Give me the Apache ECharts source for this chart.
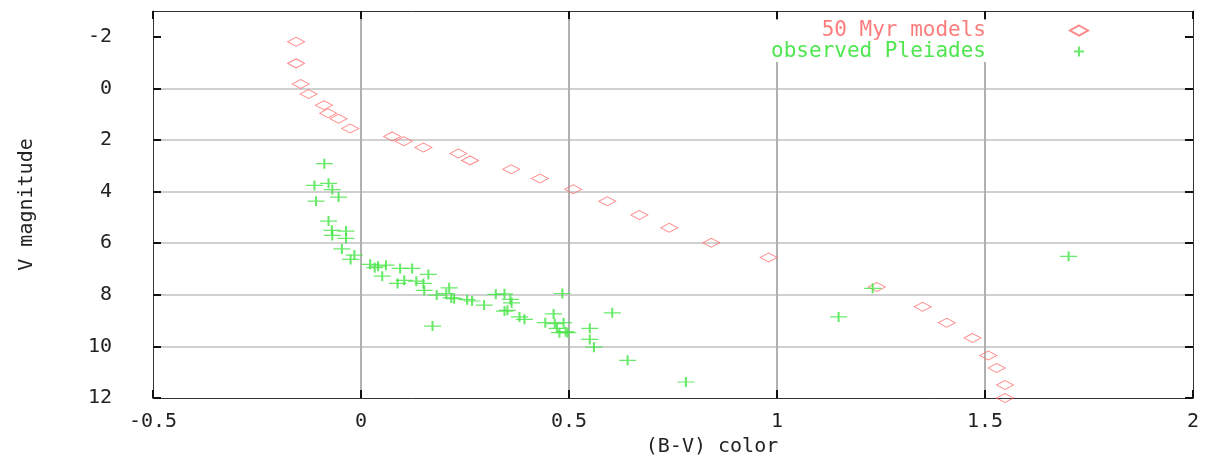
<!DOCTYPE html>
<html>
<head>
<meta charset="utf-8">
<script src="https://cdn.jsdelivr.net/npm/echarts@6/dist/echarts.min.js"></script>
<style>
html,body{margin:0;padding:0;background:#fff;}
#chart{width:1211px;height:463px;}
</style>
</head>
<body>
<div id="chart"></div>
<script>
// ---- data ----
const seriesNames = ['50 Myr models', 'observed Pleiades'];
const modelBV = [-0.156, -0.156, -0.145, -0.126, -0.089, -0.079, -0.054, -0.026, 0.075, 0.103, 0.150, 0.234, 0.262, 0.361, 0.430, 0.510, 0.592, 0.669, 0.741, 0.842, 0.980, 1.240, 1.350, 1.408, 1.470, 1.508, 1.528, 1.548, 1.548];
const modelV  = [-1.81, -0.97, -0.17, 0.22, 0.65, 0.96, 1.18, 1.55, 1.86, 2.05, 2.29, 2.52, 2.79, 3.13, 3.49, 3.91, 4.37, 4.91, 5.40, 5.98, 6.55, 7.70, 8.46, 9.08, 9.67, 10.35, 10.84, 11.50, 12.0];
const obsBV = [-0.088, -0.112, -0.078, -0.069, -0.108, -0.054, -0.078, -0.070, -0.036, -0.069, -0.036, -0.046,
  -0.016, -0.025, 0.022, 0.033, 0.041, 0.060, 0.051, 0.094, 0.123, 0.162, 0.088, 0.104, 0.133, 0.150, 0.152, 0.182,
  0.212, 0.205, 0.217, 0.224, 0.255, 0.267, 0.296, 0.324, 0.345, 0.359, 0.362, 0.345, 0.352, 0.172, 0.381, 0.393,
  0.463, 0.443, 0.466, 0.487, 0.471, 0.477, 0.492, 0.497, 0.484, 0.550, 0.550, 0.560, 0.604, 0.641,
  0.781, 1.148, 1.230, 1.701];
const obsV = [2.92, 3.76, 3.68, 3.92, 4.37, 4.21, 5.14, 5.50, 5.53, 5.70, 5.81, 6.22,
  6.46, 6.63, 6.82, 6.95, 6.89, 6.85, 7.28, 6.98, 6.98, 7.21, 7.56, 7.44, 7.47, 7.56, 7.83, 8.01,
  7.73, 7.95, 8.12, 8.15, 8.19, 8.24, 8.40, 7.98, 7.96, 8.18, 8.31, 8.63, 8.60, 9.21, 8.86, 8.95,
  8.74, 9.08, 9.12, 9.08, 9.30, 9.47, 9.43, 9.47, 7.95, 9.30, 9.73, 10.03, 8.70, 10.54,
  11.38, 8.86, 7.75, 6.51];
const xTicks = [-0.5, 0, 0.5, 1, 1.5, 2];
const yTicks = [-2, 0, 2, 4, 6, 8, 10, 12];
const xName = '(B-V) color';
const yName = 'V magnitude';

// ---- chart ----
const FONT = 'DejaVu Sans Mono';
const RED = '#ff6a6a', GREEN = '#44e444';
const modelData = modelBV.map((v, i) => [v, modelV[i]]);
const obsData = obsBV.map((v, i) => [v, obsV[i]]);

const tickStyle = {show: true, inside: true, length: 8, lineStyle: {color: '#111', width: 2}};
const lineStyle = {show: true, onZero: false, lineStyle: {color: '#333', width: 1}};

const chart = echarts.init(document.getElementById('chart'), null, {renderer: 'canvas'});
chart.setOption({
  animation: false,
  backgroundColor: '#fff',
  grid: {left: 153, right: 18, top: 11, bottom: 65, containLabel: false},
  legend: {
    orient: 'vertical', align: 'right', right: 44, top: 20,
    padding: [0, 78, 0, 0], itemGap: 0, itemWidth: 18, itemHeight: 10,
    backgroundColor: '#fff', selectedMode: false,
    textStyle: {fontFamily: FONT, fontSize: 21, lineHeight: 21, padding: [0, 79, 0, 0], color: RED},
    data: [
      {name: seriesNames[0], textStyle: {color: '#ff7c7c'}},
      {name: seriesNames[1], textStyle: {color: '#4fe64f'}}
    ]
  },
  xAxis: [{
    type: 'value', min: -0.5, max: 2, interval: 0.5, position: 'bottom',
    data: xTicks,
    name: xName, nameLocation: 'middle', nameGap: 36,
    nameTextStyle: {fontFamily: FONT, fontSize: 20, color: '#222', padding: [0, 0, 0, 78]},
    axisLine: lineStyle, axisTick: tickStyle,
    axisLabel: {fontFamily: FONT, fontSize: 20, color: '#222', margin: 14},
    splitLine: {show: true, showMinLine: false, showMaxLine: false, lineStyle: {color: '#b0b0b0', width: 2}}
  }, {
    type: 'value', min: -0.5, max: 2, interval: 0.5, position: 'top',
    axisLine: lineStyle, axisTick: tickStyle, axisLabel: {show: false}, splitLine: {show: false}
  }],
  yAxis: [{
    type: 'value', min: -3, max: 12, inverse: true, position: 'left',
    name: yName, nameLocation: 'middle', nameGap: 116, nameRotate: 90,
    nameTextStyle: {fontFamily: FONT, fontSize: 20, color: '#222'},
    axisLine: lineStyle,
    axisTick: Object.assign({customValues: yTicks}, tickStyle),
    axisLabel: {customValues: yTicks, fontFamily: FONT, fontSize: 20, color: '#222', margin: 41},
    splitLine: {show: true, showMinLine: false, showMaxLine: false, lineStyle: {color: '#c0c0c0', width: 1.5}}
  }, {
    type: 'value', min: -3, max: 12, inverse: true, position: 'right',
    axisLine: lineStyle,
    axisTick: Object.assign({customValues: yTicks}, tickStyle),
    axisLabel: {show: false}, splitLine: {show: false}
  }],
  series: [{
    name: seriesNames[0], type: 'scatter', data: modelData, clip: false,
    symbol: 'diamond', symbolSize: [17, 9],
    itemStyle: {color: 'rgba(0,0,0,0)', borderColor: RED, borderWidth: 1},
    z: 3
  }, {
    name: seriesNames[1], type: 'scatter', data: obsData,
    symbol: 'path://M0,5L10,5M5,0L5,10', symbolSize: [17, 10],
    itemStyle: {color: 'none', borderColor: GREEN, borderWidth: 1.6},
    z: 3
  }]
});
</script>
</body>
</html>
